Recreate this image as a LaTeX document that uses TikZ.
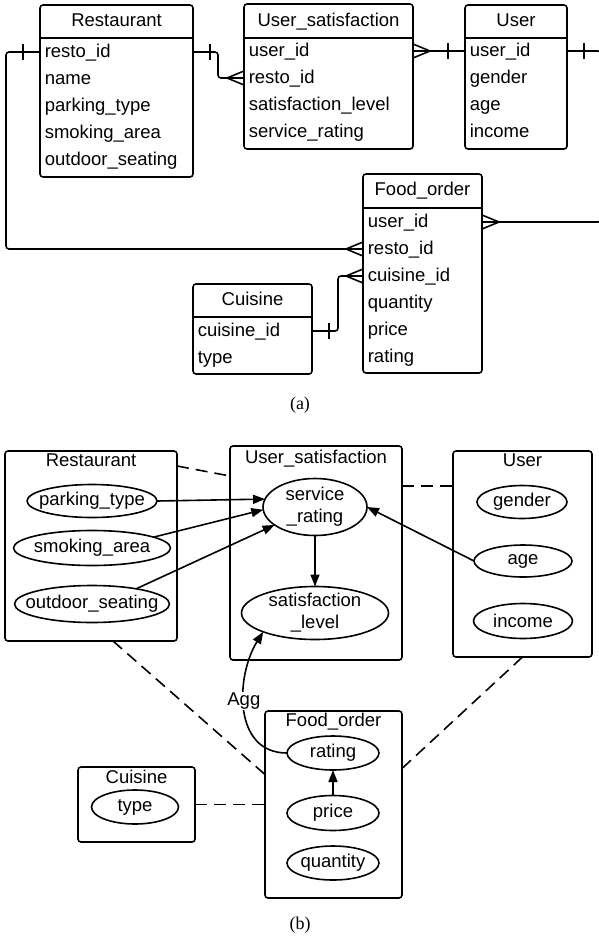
\documentclass[tikz,border=0pt]{standalone}
\usepackage{fontspec}
\setmainfont{Liberation Sans}
\newfontfamily\capfont{Liberation Serif}
\usetikzlibrary{arrows.meta,shapes.geometric}
\tikzset{
	ent/.style={draw,rounded corners=3pt,inner sep=0pt,outer sep=0pt},
	row/.style={anchor=west,inner sep=0pt,text height=10pt,text depth=0pt},
	ttl/.style={anchor=base,inner sep=0pt},
	attr/.style={draw,ellipse,inner sep=0pt,outer sep=0pt},
	rel/.style={rounded corners=3pt},
	dep/.style={-{Triangle[length=12pt,width=9pt]}},
	lnk/.style={dash pattern=on 12pt off 7pt},
	manyend/.pic={\draw (0,-7)--(-17,0)--(0,7);},
	oneend/.pic={\draw (-17,-8)--(-17,8);}
}
\begin{document}
\begin{tikzpicture}[x=1pt,y=-1pt,line width=1.6pt,line join=round,font=\fontsize{18.5}{22}\selectfont]
	\useasboundingbox (0,0) rectangle (599,940);
	% (a) tables
	\node[ent,minimum width=153pt,minimum height=172pt] (Rest) at (116.5,91) {};
	\node[ttl] (Rest-t) at (116.5,26) {Restaurant};
	\draw (Rest.west|-0,38)--(Rest.east|-0,38);
	\foreach \t [count=\i] in {resto\_id,name,parking\_type,smoking\_area,outdoor\_seating}
	\node[row] (Rest-\i) at (44,{52+27*(\i-1)}) {\t};
	\node[ent,minimum width=169pt,minimum height=145pt] (US) at (328.5,76.5) {};
	\node[ttl] (US-t) at (328.5,26) {User\_satisfaction};
	\draw (US.west|-0,38)--(US.east|-0,38);
	\foreach \t [count=\i] in {user\_id,resto\_id,satisfaction\_level,service\_rating}
	\node[row] (US-\i) at (248,{51+27*(\i-1)}) {\t};
	\node[ent,minimum width=102pt,minimum height=144pt] (User) at (516,77) {};
	\node[ttl] (User-t) at (516,26) {User};
	\draw (User.west|-0,38)--(User.east|-0,38);
	\foreach \t [count=\i] in {user\_id,gender,age,income}
	\node[row] (User-\i) at (469,{51+27*(\i-1)}) {\t};
	\node[ent,minimum width=119pt,minimum height=199pt] (FO) at (422.5,273.5) {};
	\node[ttl] (FO-t) at (422.5,195) {Food\_order};
	\draw (FO.west|-0,208)--(FO.east|-0,208);
	\foreach \t [count=\i] in {user\_id,resto\_id,cuisine\_id,quantity,price,rating}
	\node[row] (FO-\i) at (367,{222+27*(\i-1)}) {\t};
	\node[ent,minimum width=119pt,minimum height=90pt] (Cui) at (252.5,329) {};
	\node[ttl] (Cui-t) at (252.5,305) {Cuisine};
	\draw (Cui.west|-0,317)--(Cui.east|-0,317);
	\foreach \t [count=\i] in {cuisine\_id,type}
	\node[row] (Cui-\i) at (197,{331+27*(\i-1)}) {\t};
	% (a) relations
	\draw[rel] (Rest.east|-Rest-1)--++(25,0)|-(US.west|-US-2);
	\pic[xscale=-1] at (Rest.east|-Rest-1) {oneend};
	\pic at (US.west|-US-2) {manyend};
	\draw[rel] (Rest.west|-Rest-1)--++(-34,0)|-(FO.west|-FO-2);
	\pic at (Rest.west|-Rest-1) {oneend};
	\pic at (FO.west|-FO-2) {manyend};
	\draw (US.east|-US-1)--(User.west|-User-1);
	\pic[xscale=-1] at (US.east|-US-1) {manyend};
	\pic at (User.west|-User-1) {oneend};
	\draw[rel] (User.east|-User-1)--++(34,0)|-(FO.east|-FO-1);
	\pic[xscale=-1] at (User.east|-User-1) {oneend};
	\pic[xscale=-1] at (FO.east|-FO-1) {manyend};
	\draw[rel] (Cui.east|-Cui-1)--++(26,0)|-(FO.west|-FO-3);
	\pic[xscale=-1] at (Cui.east|-Cui-1) {oneend};
	\pic at (FO.west|-FO-3) {manyend};
	\node[font=\capfont\fontsize{18}{22}\selectfont] (cap-a) at (300,405) {(a)};
	% (b) entities
	\node[ent,minimum width=172pt,minimum height=190pt] (RestB) at (91,546) {};
	\node[ttl] (RestB-t) at (91,466) {Restaurant};
	\node[ent,minimum width=172pt,minimum height=214pt] (USB) at (316,553) {};
	\node[ttl] (USB-t) at (316,463) {User\_satisfaction};
	\node[ent,minimum width=139pt,minimum height=206pt] (UserB) at (522.5,554) {};
	\node[ttl] (UserB-t) at (522.5,466) {User};
	\node[ent,minimum width=137pt,minimum height=187pt] (FOB) at (333.5,804.5) {};
	\node[ttl] (FOB-t) at (333.5,726) {Food\_order};
	\node[ent,minimum width=117pt,minimum height=75pt] (CuB) at (136.5,804.5) {};
	\node[ttl] (CuB-t) at (136.5,783) {Cuisine};
	% (b) attributes
	\node[attr,minimum width=130pt,minimum height=33pt,label=center:parking\_type] (park) at (92,501) {};
	\node[attr,minimum width=157pt,minimum height=35pt,label=center:smoking\_area] (smoke) at (92,548) {};
	\node[attr,minimum width=155pt,minimum height=37pt,label=center:outdoor\_seating] (outd) at (92,604) {};
	\node[attr,minimum width=104pt,minimum height=57pt,label={[align=center]center:service\\\_rating}] (serv) at (315,507) {};
	\node[attr,minimum width=147pt,minimum height=53pt,label={[align=center]center:satisfaction\\\_level}] (sat) at (315,613) {};
	\node[attr,minimum width=90pt,minimum height=33pt,label=center:gender] (gender) at (522,502) {};
	\node[attr,minimum width=98pt,minimum height=32pt,label=center:age] (age) at (523,561) {};
	\node[attr,minimum width=99pt,minimum height=35pt,label=center:income] (income) at (523,621) {};
	\node[attr,minimum width=87pt,minimum height=34pt,label=center:type] (type) at (135,807) {};
	\node[attr,minimum width=92pt,minimum height=34pt,label=center:rating] (rating) at (333,753) {};
	\node[attr,minimum width=92pt,minimum height=35pt,label=center:price] (price) at (333,813) {};
	\node[attr,minimum width=92pt,minimum height=34pt,label=center:quantity] (qty) at (333,863) {};
	% (b) dependencies
	\draw[dep] (park.east)--(serv.171);
	\draw[dep] (smoke.10)--(serv.183);
	\draw[dep] (outd.19)--(serv.204);
	\draw[dep] (age.west)--(serv.east);
	\draw[dep] (serv.south)--(sat.north);
	\draw[dep] (price.north)--(rating.south);
	\draw[dep] (rating.west) .. controls (232,753) and (236,675) .. node[pos=.55,fill=white,inner sep=1pt] (agg) {Agg} (sat.200);
	% (b) links
	\draw[lnk] ([yshift=-15pt]RestB.north east)--([yshift=-30pt]USB.north west);
	\draw[lnk] ([yshift=-40pt]USB.north east)--([yshift=-35pt]UserB.north west);
	\draw[lnk] ([xshift=22pt]RestB.south)--([yshift=30pt]FOB.west);
	\draw[lnk] (UserB.south)--([yshift=36pt]FOB.east);
	\draw[lnk] (CuB.east)--(FOB.west);
	\node[font=\capfont\fontsize{18}{22}\selectfont] (cap-b) at (300,925) {(b)};
\end{tikzpicture}
\end{document}
